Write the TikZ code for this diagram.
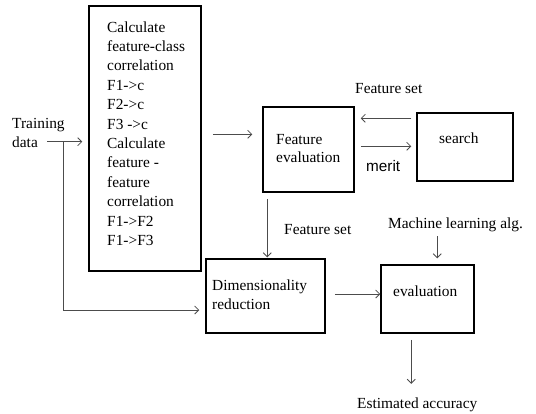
\documentclass[tikz,border=0pt]{standalone}
\usepackage{fontspec}
\setmainfont{Liberation Serif}
\newfontfamily\arialf{Liberation Sans}
\usetikzlibrary{arrows.meta}
\tikzset{
  box/.style={draw=black, line width=1.5pt, inner sep=0pt},
  txt/.style={inner sep=0pt, anchor=base west, align=left, font=\fontsize{15.4}{19.4}\selectfont},
  arr/.style={draw=black!70, line width=0.8pt, -{Straight Barb[length=4pt,width=8pt]}},
  ln/.style={draw=black!70, line width=0.8pt}
}
\begin{document}
\begin{tikzpicture}[x=1pt,y=-1pt]
\useasboundingbox (0,0) rectangle (536,413);
% boxes
\node[box, minimum width=112pt, minimum height=265pt] (big) at (145,138.5) {};
\node[box, minimum width=91pt, minimum height=85pt] (fe) at (308.5,149.5) {};
\node[box, minimum width=96pt, minimum height=68pt] (search) at (465,147) {};
\node[box, minimum width=119pt, minimum height=74pt] (dim) at (265.5,296) {};
\node[box, minimum width=93pt, minimum height=68pt] (eval) at (427.5,299) {};
% texts (multi-line nodes are placed by the baseline of their last line)
\node[txt] (bigtxt) at (107,245.4) {Calculate\\feature-class\\correlation\\F1->c\\F2->c\\F3 ->c\\Calculate\\feature -\\feature\\correlation\\F1->F2\\F1->F3};
\node[txt] (td) at (12,147.5) {Training\\data};
\node[txt, font=\fontsize{15.4}{18.7}\selectfont] (fetxt) at (276,162.7) {Feature\\evaluation};
\node[txt] (stxt) at (439,143) {search};
\node[txt] (fs1) at (355,93) {Feature set};
\node[txt, font=\arialf\fontsize{15.3}{18}\selectfont] (merit) at (366,171) {merit};
\node[txt] (fs2) at (284,234) {Feature set};
\node[txt] (ml) at (388,228) {Machine learning alg.};
\node[txt, font=\fontsize{15.4}{18.6}\selectfont] (dimtxt) at (212,309.3) {Dimensionality\\reduction};
\node[txt] (evtxt) at (393,296) {evaluation};
\node[txt] (acc) at (357,408) {Estimated accuracy};
% connectors
\coordinate (split) at (63,141.7);
\coordinate (corner) at (63,310);
\draw[arr, shorten >=6pt] ([xshift=-16pt]split) -- (big.west |- split);
\draw[arr, shorten >=6pt] (split) -- (corner) -- (dim.west |- corner);
\draw[arr] ([shift={(11pt,-129pt)}]big.north east) -- ([shift={(-10pt,-28pt)}]fe.north west);
\draw[arr] ([shift={(-5pt,-6pt)}]search.north west) -- ([shift={(6pt,-12pt)}]fe.north east);
\draw[arr] ([shift={(6pt,-40pt)}]fe.north east) -- ([shift={(-5pt,-34pt)}]search.north west);
\draw[arr] ([shift={(5pt,-6pt)}]fe.south west) -- ([shift={(62pt,1pt)}]dim.north west);
\draw[arr] ([shift={(9pt,2pt)}]dim.east) -- ([shift={(0pt,5pt)}]eval.west);
\draw[arr] ([shift={(57pt,28pt)}]eval.north west) -- ([shift={(57pt,6pt)}]eval.north west);
\draw[arr] ([shift={(31pt,-6pt)}]eval.south west) -- ([shift={(31pt,-50pt)}]eval.south west);
\end{tikzpicture}
\end{document}
